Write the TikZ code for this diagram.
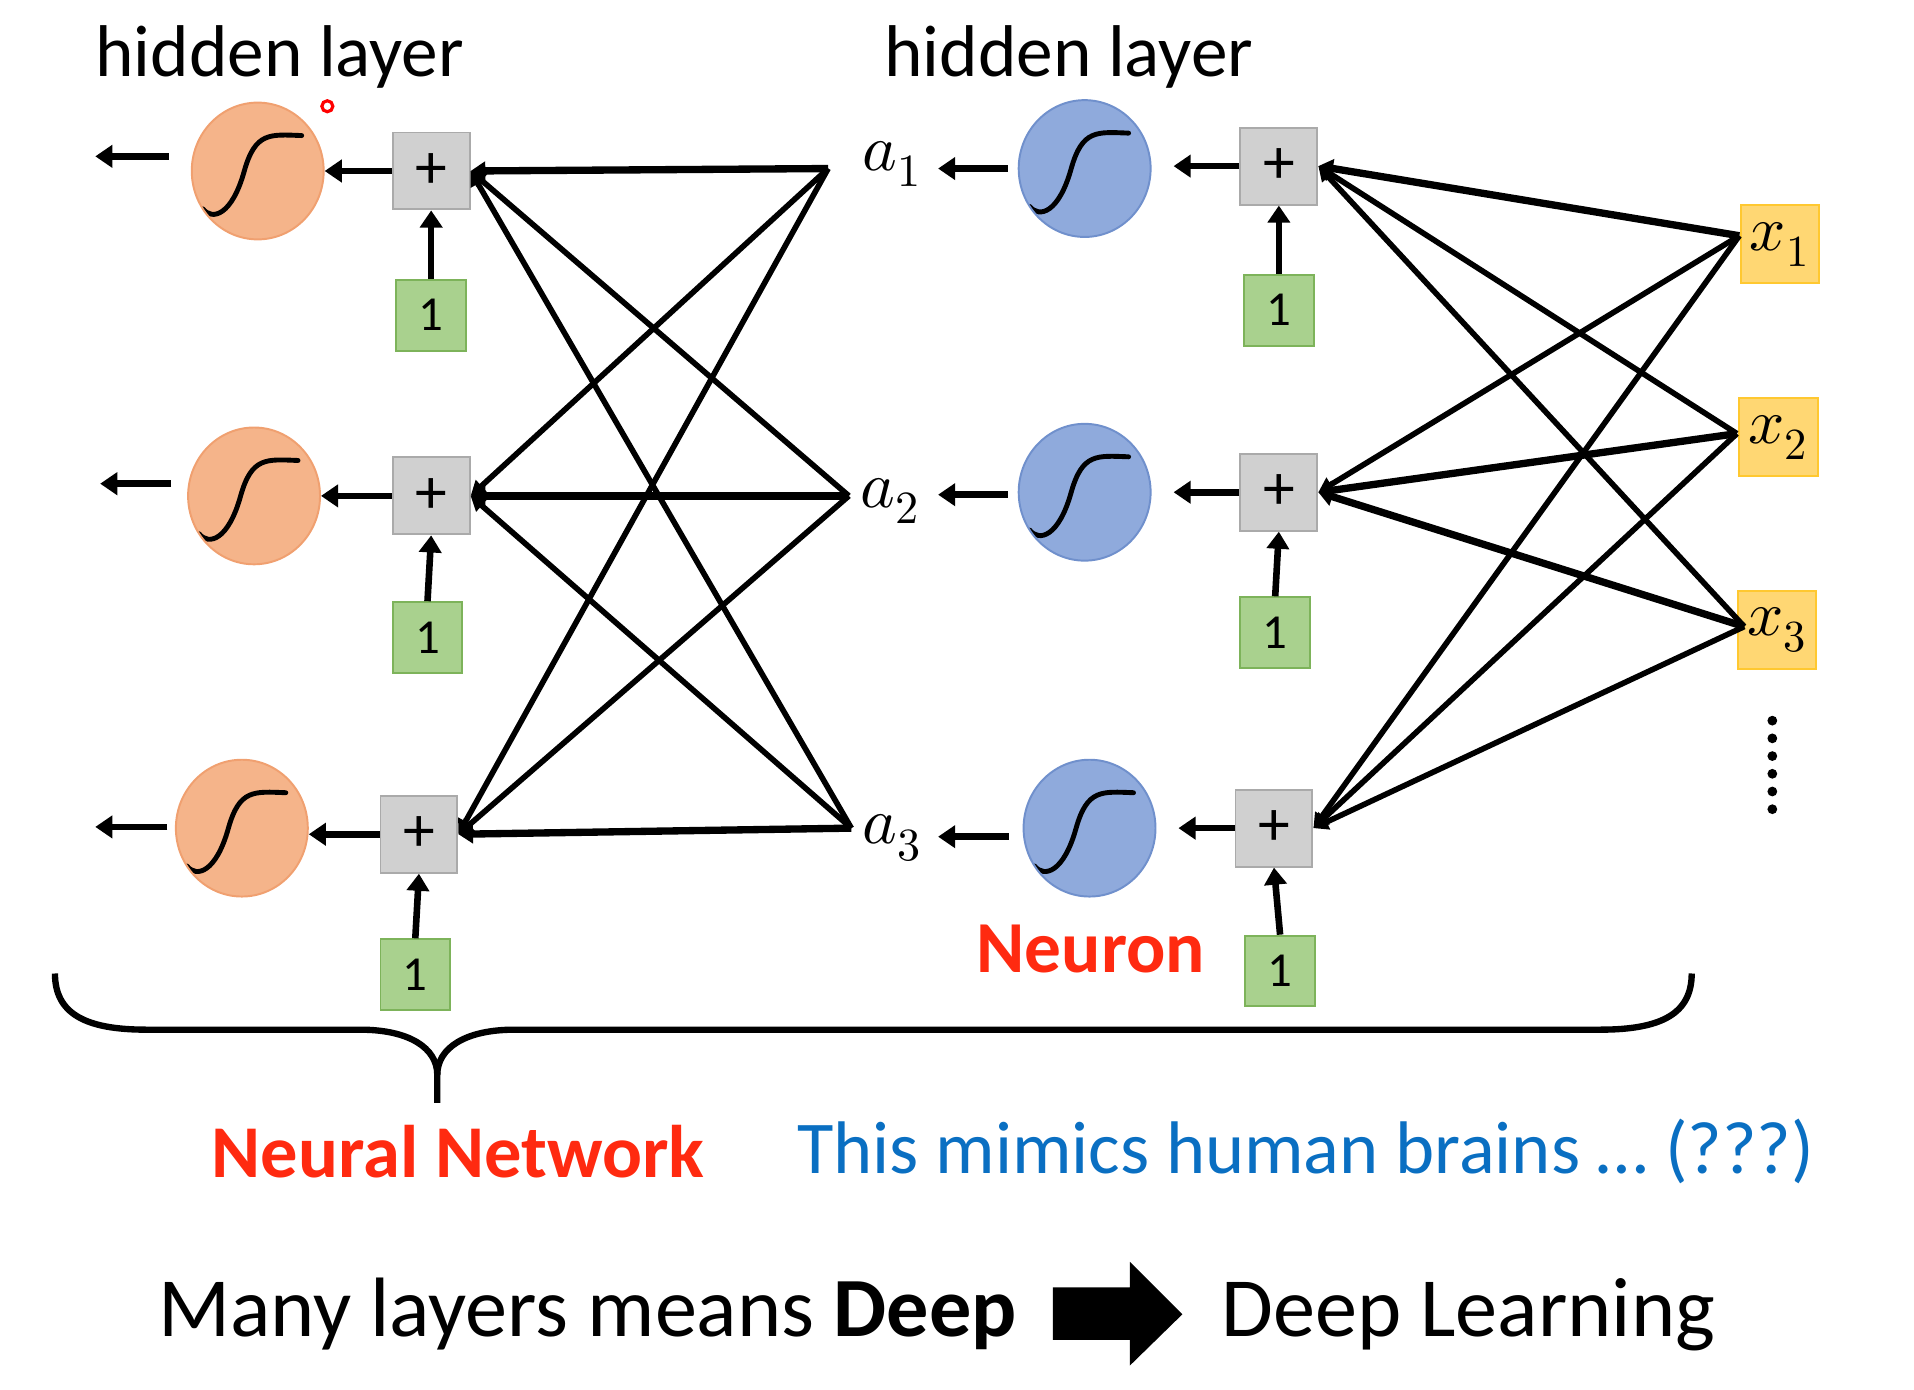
\documentclass[tikz,border=0pt]{standalone}
\usepackage{fontspec}
\setmainfont{Carlito}
\usepackage{unicode-math}
\setmathfont{Latin Modern Math}
\usetikzlibrary{arrows.meta,shapes.geometric}
\definecolor{orfill}{HTML}{F5B48A}
\definecolor{ordraw}{HTML}{F0A070}
\definecolor{blfill}{HTML}{8FAADC}
\definecolor{bldraw}{HTML}{7090CC}
\definecolor{gyfill}{HTML}{D0D0D0}
\definecolor{gydraw}{HTML}{AAAAAA}
\definecolor{grfill}{HTML}{A9D18E}
\definecolor{grdraw}{HTML}{7DB35A}
\definecolor{yefill}{HTML}{FFD773}
\definecolor{yedraw}{HTML}{FFC830}
\definecolor{redtxt}{HTML}{FF2A10}
\definecolor{bluetxt}{HTML}{0A6FC2}
\newcommand\sigcurve{%
  \coordinate (pc) at (path picture bounding box.center);
  \draw[black, line width=2pt, line cap=round]
    ([shift={(-45,31)}]pc) .. controls ([shift={(-37,41)}]pc) and ([shift={(-21,36)}]pc) ..
    ([shift={(-11,0)}]pc) .. controls ([shift={(-2,-32)}]pc) and ([shift={(10,-30)}]pc) ..
    ([shift={(36,-29)}]pc);}
\tikzset{
  neuronO/.style={ellipse, minimum width=54pt, minimum height=56pt, fill=orfill, draw=ordraw, line width=0.8pt, path picture={\sigcurve}},
  neuronB/.style={ellipse, minimum width=54pt, minimum height=56pt, fill=blfill, draw=bldraw, line width=0.8pt, path picture={\sigcurve}},
  plusbox/.style={rectangle, minimum width=31.5pt, minimum height=31.5pt, inner sep=0pt, fill=gyfill, draw=gydraw, line width=0.8pt, font=\fontsize{26}{26}\selectfont},
  onebox/.style={rectangle, minimum width=28.5pt, minimum height=29pt, inner sep=0pt, fill=grfill, draw=grdraw, line width=0.8pt, font=\fontsize{20}{20}\selectfont},
  xbox/.style={rectangle, minimum width=32pt, minimum height=32pt, inner sep=0pt, fill=yefill, draw=yedraw, line width=0.8pt, font=\fontsize{26}{26}\selectfont},
  alabel/.style={inner sep=0pt, font=\fontsize{27}{27}\selectfont},
  arr/.style={line width=2.7pt, -{Triangle[width=9pt,length=7pt]}},
  conn/.style={line width=2.3pt, -{Triangle[width=6.5pt,length=6pt]}},
  connT/.style={line width=3pt, -{Triangle[width=7.5pt,length=6pt]}},
  hl/.style={font=\fontsize{30}{30}\selectfont},
}
\begin{document}
\begin{tikzpicture}[x=0.5pt,y=-0.5pt]
\useasboundingbox (0,0) rectangle (1567,1138);
% titles
\node[hl] (h1) at (229,47) {hidden layer};
\node[hl] (h2) at (875,47) {hidden layer};
\draw[red, line width=1.3pt] (268,87) circle (4.5);
% left layer
\node[neuronO] (o1) at (211,140) {};
\node[neuronO] (o2) at (208,406) {};
\node[neuronO] (o3) at (198,678) {};
\node[plusbox] (p1) at (353,140) {+};
\node[plusbox] (p2) at (353,406) {+};
\node[plusbox] (p3) at (343,683) {+};
\node[onebox] (g1) at (353,258) {1};
\node[onebox] (g2) at (350,522) {1};
\node[onebox] (g3) at (340,798) {1};
\coordinate (q1s) at (138,128); \coordinate (q1) at (78,128);
\coordinate (q2s) at (140,396); \coordinate (q2) at (82,396);
\coordinate (q3s) at (137,677); \coordinate (q3) at (78,677);
\draw[arr] (q1s) -- (q1);
\draw[arr] (q2s) -- (q2);
\draw[arr] (q3s) -- (q3);
\draw[arr] (p1.west) -- (o1.east |- p1.west);
\draw[arr] (p2.west) -- (o2.east |- p2.west);
\draw[arr] (p3.west) -- (o3.east |- p3.west);
\draw[arr] (g1.north) -- (p1.south);
\draw[arr] (g2.north) -- (p2.south);
\draw[arr] (g3.north) -- (p3.south);
% a points
\coordinate (c1) at (678,138);
\coordinate (c2) at (695,406);
\coordinate (c3) at (697,678);
\node[alabel, anchor=west] (a1) at (706,134) {$a_1$};
\node[alabel, anchor=west] (a2) at (704,410) {$a_2$};
\node[alabel, anchor=west] (a3) at (706,686) {$a_3$};
\draw[connT] (c1) -- (p1.east);
\draw[conn] (c1) -- (p2.east);
\draw[conn] (c1) -- (p3.east);
\draw[conn] (c2) -- (p1.east);
\draw[connT] (c2) -- (p2.east);
\draw[conn] (c2) -- (p3.east);
\draw[conn] (c3) -- (p1.east);
\draw[conn] (c3) -- (p2.east);
\draw[connT] (c3) -- (p3.east);
% right layer
\node[neuronB] (b1) at (888,138) {};
\node[neuronB] (b2) at (888,403) {};
\node[neuronB] (b3) at (892,678) {};
\node[plusbox] (r1) at (1047,136) {+};
\node[plusbox] (r2) at (1047,403) {+};
\node[plusbox] (r3) at (1043,678) {+};
\node[onebox] (s1) at (1047,254) {1};
\node[onebox] (s2) at (1044,518) {1};
\node[onebox] (s3) at (1048,795) {1};
\coordinate (e1s) at (825,138); \coordinate (e1) at (768,138);
\coordinate (e2s) at (825,405); \coordinate (e2) at (768,405);
\coordinate (e3s) at (826,685); \coordinate (e3) at (768,685);
\draw[arr] (e1s) -- (e1);
\draw[arr] (e2s) -- (e2);
\draw[arr] (e3s) -- (e3);
\draw[arr, shorten >=9pt] (r1.west) -- (b1.east |- r1.west);
\draw[arr, shorten >=9pt] (r2.west) -- (b2.east |- r2.west);
\draw[arr, shorten >=9pt] (r3.west) -- (b3.east |- r3.west);
\draw[arr] (s1.north) -- (r1.south);
\draw[arr] (s2.north) -- (r2.south);
\draw[arr] (s3.north) -- (r3.south);
% inputs
\node[xbox] (x1) at (1457,200) {$x_1$};
\node[xbox] (x2) at (1456,358) {$x_2$};
\node[xbox] (x3) at (1455,516) {$x_3$};
\coordinate (d1) at (1424,193);
\coordinate (d2) at (1422,355);
\coordinate (d3) at (1428,513);
\draw[connT] (d1) -- (r1.east);
\draw[conn] (d1) -- (r2.east);
\draw[conn] (d1) -- (r3.east);
\draw[conn] (d2) -- (r1.east);
\draw[connT] (d2) -- (r2.east);
\draw[conn] (d2) -- (r3.east);
\draw[conn] (d3) -- (r1.east);
\draw[connT] (d3) -- (r2.east);
\draw[conn] (d3) -- (r3.east);
\foreach \k in {0,...,5} \fill (1451,{590+\k*14.5}) circle (4);
% labels
\node[text=redtxt, font=\bfseries\fontsize{30}{30}\selectfont] (neu) at (893,777) {Neuron};
\draw[line width=2.6pt]
  (45,797) .. controls (45,830) and (70,843) .. (120,843) -- (295,843)
  .. controls (335,843) and (358,858) .. (358,880) -- (358,903);
\draw[line width=2.6pt]
  (358,880) .. controls (358,858) and (381,843) .. (421,843) -- (1310,843)
  .. controls (1360,843) and (1385,830) .. (1385,797);
\node[text=redtxt, font=\bfseries\fontsize{30.5}{30.5}\selectfont] (nn) at (375,943) {Neural Network};
\node[text=bluetxt, font=\fontsize{30.5}{30.5}\selectfont] (mim) at (1069,943) {This mimics human brains … (???)};
\node[font=\fontsize{34.5}{34.5}\selectfont] (many) at (481,1076) {Many layers means \textbf{Deep}};
\node[font=\fontsize{34.5}{34.5}\selectfont] (dl) at (1202,1076) {Deep Learning};
\fill (862,1054) -- (925,1054) -- (925,1033) -- (968,1076) -- (925,1118) -- (925,1097) -- (862,1097) -- cycle;
\end{tikzpicture}
\end{document}
